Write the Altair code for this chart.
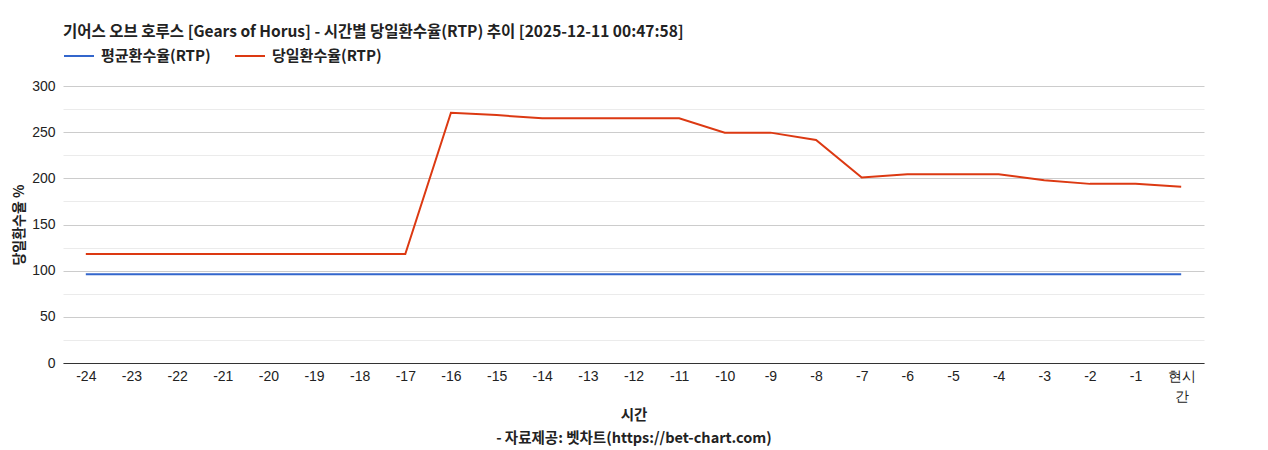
import altair as alt
import pandas as pd

hours = ["-24", "-23", "-22", "-21", "-20", "-19", "-18", "-17", "-16", "-15",
         "-14", "-13", "-12", "-11", "-10", "-9", "-8", "-7", "-6", "-5",
         "-4", "-3", "-2", "-1", "현시간"]
avg_rtp = [96] * 25
day_rtp = [118, 118, 118, 118, 118, 118, 118, 118, 271, 268.5,
           265, 265, 265, 265, 249.5, 249.5, 241.5, 201, 204.5, 204.5,
           204.5, 198, 194, 194, 191]
series_names = ["평균환수율(RTP)", "당일환수율(RTP)"]
colors = ["#3366cc", "#dc3912"]

rows = []
for i, h in enumerate(hours):
    rows.append({"시간": h, "series": series_names[0], "value": avg_rtp[i], "ord": i})
    rows.append({"시간": h, "series": series_names[1], "value": day_rtp[i], "ord": i})
df = pd.DataFrame(rows)

FONT = "Liberation Sans"
KFONT = "Noto Sans CJK KR"

chart = alt.Chart(df).mark_line(strokeWidth=2).encode(
    x=alt.X("시간:N", sort=hours,
            scale=alt.Scale(type="point", padding=0.5),
            axis=alt.Axis(
                title=["시간", "- 자료제공: 벳차트(https://bet-chart.com)"],
                titleFont=KFONT, titleFontWeight="bold", titleFontSize=14.5,
                titleLineHeight=23, titlePadding=5, titleColor="#222",
                labelExpr="datum.label == '현시간' ? ['현시', '간'] : datum.label",
                labelFont=FONT, labelFontSize=14, labelColor="#222",
                labelAngle=0, labelPadding=6, labelLineHeight=20,
                ticks=False, domainColor="#333", domainWidth=1, grid=False)),
    y=alt.Y("value:Q",
            scale=alt.Scale(domain=[0, 300], nice=False),
            axis=alt.Axis(
                title="당일환수율 %", titleFont=KFONT, titleFontWeight="bold",
                titleFontSize=14, titleColor="#222", titlePadding=5,
                values=list(range(0, 301, 25)),
                labelExpr="datum.value % 50 === 0 ? datum.label : ''",
                labelFont=FONT, labelFontSize=14, labelColor="#222",
                labelPadding=8, ticks=False, domain=False,
                gridColor={"condition": {"test": "datum.value % 50 === 0", "value": "#cccccc"},
                           "value": "#ebebeb"},
                gridWidth=1)),
    color=alt.Color("series:N", sort=series_names,
                    scale=alt.Scale(domain=series_names, range=colors),
                    legend=alt.Legend(
                        title=None, orient="none", legendX=0, legendY=-46,
                        direction="horizontal", symbolType="stroke",
                        symbolStrokeWidth=2, symbolSize=900,
                        labelFont=KFONT, labelFontSize=15, labelFontWeight="bold",
                        labelColor="#222", columnPadding=20, labelOffset=6)),
    order="ord:Q",
).properties(
    width=1141, height=277,
    title=alt.TitleParams(
        "기어스 오브 호루스 [Gears of Horus] - 시간별 당일환수율(RTP) 추이 [2025-12-11 00:47:58]",
        anchor="start", font=KFONT, fontSize=15.5, fontWeight="bold",
        color="#222", offset=0, frame="group"),
    autosize=alt.AutoSizeParams(type="none"),
    padding={"left": 55, "top": 78, "right": 40, "bottom": 100},
).configure(background="white").configure_view(stroke=None)

chart.save("out.html", embed_options={"renderer": "svg", "actions": False})
